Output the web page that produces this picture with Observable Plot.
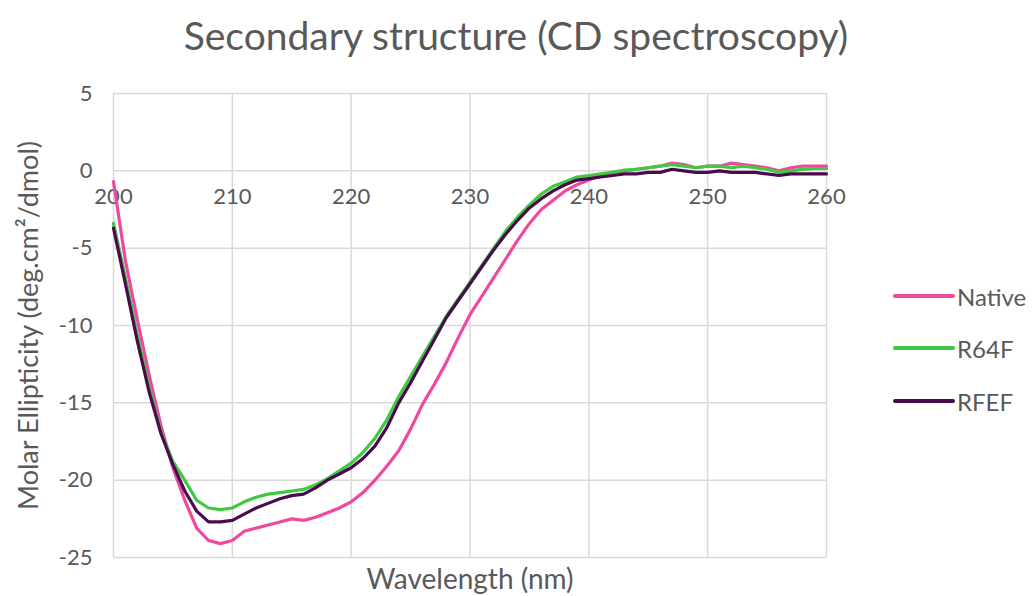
<!DOCTYPE html>
<html>
<head>
<meta charset="utf-8">
<script src="https://cdn.jsdelivr.net/npm/d3@7"></script>
<script src="https://cdn.jsdelivr.net/npm/@observablehq/plot@0.6"></script>
<style>
  html, body { margin: 0; padding: 0; background: #fff; }
  #wrap { position: relative; width: 1032px; height: 596px; font-family: Lato, "Open Sans", sans-serif; color: #595959; }
  #title { position: absolute; left: 0; top: 16px; width: 1032px; text-align: center; font-size: 39px; line-height: 1; }
  #chart { position: absolute; left: 0; top: 65px; }
  #legend { position: absolute; left: 893px; top: 0; }
  .entry { position: absolute; left: 0; display: flex; align-items: center; font-size: 24px; white-space: nowrap; }
  .swatch { width: 62px; height: 4px; border-radius: 2px; margin-right: 2px; }
</style>
</head>
<body>
<div id="wrap">
  <div id="title">Secondary structure (CD spectroscopy)</div>
  <div id="chart"></div>
  <div id="legend"></div>
</div>
<script>
const wavelength = [200,201,202,203,204,205,206,207,208,209,210,211,212,213,214,215,216,217,218,219,220,221,222,223,224,225,226,227,228,229,230,231,232,233,234,235,236,237,238,239,240,241,242,243,244,245,246,247,248,249,250,251,252,253,254,255,256,257,258,259,260];

const nativeValues = [-0.7,-5.8,-9.6,-13.2,-16.5,-19.2,-21.3,-23.1,-23.9,-24.1,-23.9,-23.3,-23.1,-22.9,-22.7,-22.5,-22.6,-22.4,-22.1,-21.8,-21.4,-20.8,-20.0,-19.1,-18.1,-16.7,-15.1,-13.8,-12.4,-10.8,-9.3,-8.1,-6.9,-5.7,-4.5,-3.4,-2.5,-1.9,-1.3,-0.9,-0.6,-0.3,-0.1,0.0,0.1,0.2,0.3,0.5,0.4,0.2,0.3,0.3,0.5,0.4,0.3,0.2,0.0,0.2,0.3,0.3,0.3];

const r64fValues = [-3.4,-6.9,-10.6,-14.0,-16.9,-18.8,-20.0,-21.3,-21.8,-21.9,-21.8,-21.4,-21.1,-20.9,-20.8,-20.7,-20.6,-20.3,-19.9,-19.4,-18.9,-18.2,-17.3,-16.1,-14.6,-13.3,-12.0,-10.7,-9.4,-8.3,-7.2,-6.1,-5.0,-3.9,-3.0,-2.2,-1.5,-1.0,-0.7,-0.4,-0.3,-0.2,-0.1,0.05,0.1,0.2,0.3,0.4,0.3,0.2,0.3,0.3,0.2,0.3,0.2,0.1,-0.1,0.0,0.1,0.15,0.15];

const rfefValues = [-3.7,-7.3,-11.0,-14.3,-17.0,-19.0,-20.7,-22.0,-22.7,-22.7,-22.6,-22.2,-21.8,-21.5,-21.2,-21.0,-20.9,-20.5,-20.0,-19.6,-19.2,-18.6,-17.8,-16.6,-15.0,-13.7,-12.3,-10.9,-9.5,-8.4,-7.3,-6.2,-5.1,-4.1,-3.2,-2.4,-1.8,-1.3,-0.9,-0.6,-0.5,-0.4,-0.3,-0.2,-0.2,-0.1,-0.1,0.1,0.0,-0.1,-0.1,0.0,-0.1,-0.1,-0.1,-0.2,-0.3,-0.2,-0.2,-0.2,-0.2];

const seriesNames = ["Native", "R64F", "RFEF"];
const seriesColors = ["#f0489e", "#40c840", "#4a0a4e"];
const xTicks = [200, 210, 220, 230, 240, 250, 260];
const yTicks = [5, 0, -5, -10, -15, -20, -25];
const titleText = "Secondary structure (CD spectroscopy)";
const xLabel = "Wavelength (nm)";
const yLabel = "Molar Ellipticity (deg.cm\u00B2/dmol)";

const seriesValues = [nativeValues, r64fValues, rfefValues];
const data = [];
seriesNames.forEach((name, i) => {
  wavelength.forEach((w, j) => data.push({series: name, wavelength: w, value: seriesValues[i][j]}));
});

const chart = Plot.plot({
  width: 1032,
  height: 531,
  marginTop: 28,
  marginBottom: 39,
  marginLeft: 113,
  marginRight: 206,
  style: {fontFamily: "Lato, 'Open Sans', sans-serif", color: "#595959", background: "white", overflow: "visible"},
  x: {domain: [200, 260]},
  y: {domain: [-25, 5]},
  color: {domain: seriesNames, range: seriesColors},
  marks: [
    Plot.gridX(xTicks, {stroke: "#d9d9d9", strokeOpacity: 1, strokeWidth: 1.5}),
    Plot.gridY(yTicks, {stroke: "#d9d9d9", strokeOpacity: 1, strokeWidth: 1.5}),
    Plot.axisY(yTicks, {tickSize: 0, tickPadding: 21, fontSize: 22, label: null, fill: "#595959", tickFormat: d => String(d)}),
    Plot.axisX({ticks: [], label: null}),
    Plot.text(xTicks, {x: d => d, y: 0, dy: 26, text: d => String(d), fontSize: 22, fill: "#595959", textAnchor: "middle", lineAnchor: "middle"}),
    Plot.line(data, {x: "wavelength", y: "value", z: "series", stroke: "series", strokeWidth: 3.2, strokeLinejoin: "round", strokeLinecap: "round"}),
    Plot.text([yLabel], {frameAnchor: "left", rotate: -90, dx: -84, fontSize: 27, fill: "#595959", textAnchor: "middle", lineAnchor: "middle"}),
    Plot.text([xLabel], {frameAnchor: "bottom", dy: 23, fontSize: 28, fill: "#595959", textAnchor: "middle", lineAnchor: "middle"})
  ]
});
document.getElementById("chart").appendChild(chart);
document.getElementById("title").textContent = titleText;

const legendY = [296, 348, 401];
const legend = document.getElementById("legend");
seriesNames.forEach((name, i) => {
  const e = document.createElement("div");
  e.className = "entry";
  e.style.top = (legendY[i] - 15) + "px";
  e.style.height = "30px";
  const sw = document.createElement("div");
  sw.className = "swatch";
  sw.style.background = seriesColors[i];
  const t = document.createElement("span");
  t.textContent = name;
  e.appendChild(sw);
  e.appendChild(t);
  legend.appendChild(e);
});
</script>
</body>
</html>
